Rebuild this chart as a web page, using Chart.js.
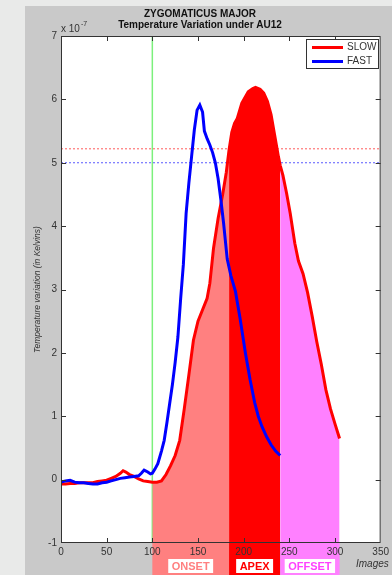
<!DOCTYPE html>
<html>
<head>
<meta charset="utf-8">
<script src="https://cdn.jsdelivr.net/npm/chart.js@4.4.1/dist/chart.umd.min.js"></script>
<style>
  html, body { margin: 0; padding: 0; background: #e9eae9; }
  #wrap { position: relative; width: 392px; height: 575px; }
</style>
</head>
<body>
<div id="wrap"><canvas id="tempChart" width="392" height="575"></canvas></div>
<script>
// Temperature variation (x 10^-7 K) per image frame, zygomaticus major / AU12
const SLOW_X = [0, 5, 10, 15, 20, 25, 30, 35, 40, 45, 50, 55, 60, 65, 68, 71, 75, 80, 85, 90, 95,
    100, 105, 110, 115, 120, 125, 130, 135, 140, 145, 150, 155, 160, 163, 167, 172, 177, 181,
    184, 187, 190, 193, 198, 205, 210, 213, 218, 222, 226, 230, 234, 238,
    240, 243, 247, 251, 256, 260, 265, 270, 275, 280, 285, 290, 295, 300, 305];
const SLOW_Y = [-0.07, -0.07, -0.06, -0.06, -0.05, -0.05, -0.05, -0.05, -0.03, -0.02, -0.01, 0.02, 0.05, 0.10, 0.14, 0.12, 0.08, 0.05, 0.01, -0.02, -0.03,
    -0.04, -0.04, -0.02, 0.08, 0.22, 0.38, 0.62, 1.12, 1.65, 2.2, 2.5, 2.68, 2.86, 3.1, 3.65, 4.12, 4.5, 4.85,
    5.2, 5.48, 5.62, 5.7, 5.94, 6.12, 6.17, 6.19, 6.16, 6.1, 5.97, 5.76, 5.43, 5.1,
    4.96, 4.8, 4.52, 4.2, 3.73, 3.45, 3.25, 2.95, 2.58, 2.18, 1.82, 1.42, 1.12, 0.88, 0.65];

const FAST_X = [0, 5, 10, 15, 20, 25, 30, 35, 40, 45, 50, 55, 60, 65, 70, 75, 80, 85,
    88, 91, 95, 98, 100, 103, 106, 110, 113, 116, 119, 122, 125, 128, 131, 134, 137, 140,
    143, 146, 149, 152, 155, 157, 160, 163, 166, 169, 172, 175, 178, 182, 186, 191, 196,
    202, 207, 212, 216, 220, 225, 230, 235, 240];
const FAST_Y = [-0.04, -0.02, -0.01, -0.04, -0.05, -0.05, -0.06, -0.07, -0.07, -0.05, -0.04, -0.02, 0.0, 0.02, 0.03, 0.04, 0.05, 0.06,
    0.1, 0.15, 0.12, 0.09, 0.1, 0.17, 0.25, 0.45, 0.62, 0.9, 1.2, 1.5, 1.85, 2.25, 2.85, 3.4, 4.2, 4.68,
    5.1, 5.52, 5.83, 5.91, 5.8, 5.5, 5.38, 5.28, 5.16, 5.0, 4.75, 4.42, 4.05, 3.48, 3.22, 2.97, 2.55,
    1.99, 1.58, 1.22, 1.0, 0.84, 0.68, 0.55, 0.45, 0.38];

// threshold levels and stimulus start
const SLOW_THRESHOLD = 5.22;
const FAST_THRESHOLD = 5.0;
const STIMULUS_X = 100;

// phases of the slow response
const PHASE_NAMES = ['ONSET', 'APEX', 'OFFSET'];
const PHASE_START = [100, 184, 240];
const PHASE_END = [184, 240, 305];
const PHASE_FILL = ['#ff8080', '#ff0000', '#ff80ff'];
const PHASE_TEXT = ['#ff8080', '#ff0000', '#ff40ff'];

const X_MIN = 0, X_MAX = 350, X_STEP = 50;
const Y_MIN = -1, Y_MAX = 7, Y_STEP = 1;

const FONT = "'Liberation Sans', Arial, sans-serif";

const toPoints = (xs, ys) => xs.map((x, i) => ({ x: x, y: ys[i] }));
const slowPoints = toPoints(SLOW_X, SLOW_Y);
const fastPoints = toPoints(FAST_X, FAST_Y);

// one filled slice of the slow curve per phase
const phaseSets = PHASE_NAMES.map((name, i) => ({
    label: name,
    data: slowPoints.filter(p => p.x >= PHASE_START[i] && p.x <= PHASE_END[i]),
    borderWidth: 0,
    backgroundColor: PHASE_FILL[i],
    fill: 'start',
    order: 5
}));

const hline = (y) => [{ x: X_MIN, y: y }, { x: X_MAX, y: y }];

const figurePlugin = {
    id: 'figure',
    beforeDraw(chart) {
        const ctx = chart.ctx;
        const a = chart.chartArea;
        const xs = chart.scales.x;
        ctx.save();
        ctx.fillStyle = '#e9eae9';
        ctx.fillRect(0, 0, chart.width, chart.height);
        ctx.fillStyle = '#c9c9c9';
        ctx.fillRect(25, 6, chart.width - 25, chart.height - 6);
        ctx.fillStyle = '#ffffff';
        ctx.fillRect(a.left, a.top, a.right - a.left, a.bottom - a.top);
        // phase bands carried on under the axis
        PHASE_NAMES.forEach((n, i) => {
            const x0 = xs.getPixelForValue(PHASE_START[i]);
            const x1 = xs.getPixelForValue(PHASE_END[i]);
            ctx.fillStyle = PHASE_FILL[i];
            ctx.fillRect(x0, a.bottom, x1 - x0, chart.height - a.bottom);
        });
        ctx.restore();
    },
    afterDatasetsDraw(chart) {
        const ctx = chart.ctx;
        const a = chart.chartArea;
        const xs = chart.scales.x, ys = chart.scales.y;
        ctx.save();
        ctx.strokeStyle = '#333333';
        ctx.lineWidth = 1;
        ctx.strokeRect(a.left + 0.5, a.top + 0.5, a.right - a.left - 1, a.bottom - a.top - 1);
        // inward tick marks on all four sides
        ctx.beginPath();
        for (let v = X_MIN + X_STEP; v < X_MAX; v += X_STEP) {
            const px = Math.round(xs.getPixelForValue(v)) + 0.5;
            ctx.moveTo(px, a.bottom); ctx.lineTo(px, a.bottom - 5);
            ctx.moveTo(px, a.top); ctx.lineTo(px, a.top + 5);
        }
        for (let v = Y_MIN + Y_STEP; v < Y_MAX; v += Y_STEP) {
            const py = Math.round(ys.getPixelForValue(v)) + 0.5;
            ctx.moveTo(a.left, py); ctx.lineTo(a.left + 5, py);
            ctx.moveTo(a.right, py); ctx.lineTo(a.right - 5, py);
        }
        ctx.stroke();
        ctx.restore();
    },
    afterDraw(chart) {
        const ctx = chart.ctx;
        const a = chart.chartArea;
        const xs = chart.scales.x;
        ctx.save();
        ctx.fillStyle = '#111111';
        ctx.textAlign = 'center';
        ctx.textBaseline = 'middle';
        ctx.font = 'bold 10px ' + FONT;
        ctx.fillText('ZYGOMATICUS MAJOR', 200, 14);
        ctx.fillText('Temperature Variation under AU12', 200, 25);

        // exponent label above the y axis
        ctx.fillStyle = '#333333';
        ctx.textAlign = 'left';
        ctx.font = '10px ' + FONT;
        ctx.fillText('x 10', 61, 29);
        ctx.font = '7px ' + FONT;
        ctx.fillText('-7', 81, 24);

        // y axis title
        ctx.save();
        ctx.translate(38, (a.top + a.bottom) / 2);
        ctx.rotate(-Math.PI / 2);
        ctx.textAlign = 'center';
        ctx.font = 'italic 8.5px ' + FONT;
        ctx.fillText('Temperature variation (in Kelvins)', 0, 0);
        ctx.restore();

        ctx.font = 'italic 10px ' + FONT;
        ctx.textAlign = 'left';
        ctx.fillText('Images', 356, 564);

        // phase name tags
        ctx.font = 'bold 11px ' + FONT;
        ctx.textAlign = 'center';
        PHASE_NAMES.forEach((n, i) => {
            const cx = (xs.getPixelForValue(PHASE_START[i]) + xs.getPixelForValue(PHASE_END[i])) / 2;
            const w = ctx.measureText(n).width + 7;
            ctx.fillStyle = '#ffffff';
            ctx.fillRect(cx - w / 2, 559, w, 14);
            ctx.fillStyle = PHASE_TEXT[i];
            ctx.fillText(n, cx, 566.5);
        });

        // legend box
        ctx.fillStyle = '#ffffff';
        ctx.fillRect(306, 39, 73, 30);
        ctx.strokeStyle = '#333333';
        ctx.lineWidth = 1;
        ctx.strokeRect(306.5, 39.5, 72, 29);
        const entries = [['SLOW', '#ff0000', 47.5], ['FAST', '#0000ff', 61.5]];
        entries.forEach(e => {
            ctx.strokeStyle = e[1];
            ctx.lineWidth = 3;
            ctx.beginPath();
            ctx.moveTo(312, e[2]); ctx.lineTo(343, e[2]);
            ctx.stroke();
            ctx.fillStyle = '#333333';
            ctx.font = '10px ' + FONT;
            ctx.textAlign = 'left';
            ctx.fillText(e[0], 347, e[2]);
        });
        ctx.restore();
    }
};

new Chart(document.getElementById('tempChart'), {
    type: 'line',
    data: {
        datasets: [
            {
                label: 'FAST',
                data: fastPoints,
                borderColor: '#0000ff',
                borderWidth: 3,
                order: 0
            },
            {
                label: 'SLOW',
                data: slowPoints,
                borderColor: '#ff0000',
                borderWidth: 3,
                order: 1
            },
            ...phaseSets,
            {
                label: 'slow threshold',
                data: hline(SLOW_THRESHOLD),
                borderColor: '#ff5a5a',
                borderWidth: 1,
                borderDash: [2, 2],
                order: 8
            },
            {
                label: 'fast threshold',
                data: hline(FAST_THRESHOLD),
                borderColor: '#5a5aff',
                borderWidth: 1,
                borderDash: [2, 2],
                order: 8
            },
            {
                label: 'stimulus',
                data: [{ x: STIMULUS_X, y: Y_MIN }, { x: STIMULUS_X, y: Y_MAX }],
                borderColor: '#7cf07c',
                borderWidth: 1.5,
                order: 9
            }
        ]
    },
    options: {
        responsive: false,
        animation: false,
        events: [],
        elements: {
            line: { tension: 0, fill: false },
            point: { radius: 0 }
        },
        layout: {
            autoPadding: false,
            padding: { top: 36, right: 9, left: 0, bottom: 0 }
        },
        plugins: {
            legend: { display: false },
            title: { display: false },
            tooltip: { enabled: false }
        },
        scales: {
            x: {
                type: 'linear',
                min: X_MIN,
                max: X_MAX,
                afterFit: s => { s.height = 32; },
                grid: { display: false, drawTicks: false },
                border: { display: false },
                ticks: {
                    stepSize: X_STEP,
                    padding: 3,
                    color: '#333333',
                    font: { size: 10, family: FONT }
                }
            },
            y: {
                type: 'linear',
                min: Y_MIN,
                max: Y_MAX,
                afterFit: s => { s.width = 61; },
                grid: { display: false, drawTicks: false },
                border: { display: false },
                ticks: {
                    stepSize: Y_STEP,
                    padding: 4,
                    color: '#333333',
                    font: { size: 10, family: FONT }
                }
            }
        }
    },
    plugins: [figurePlugin]
});
</script>
</body>
</html>
